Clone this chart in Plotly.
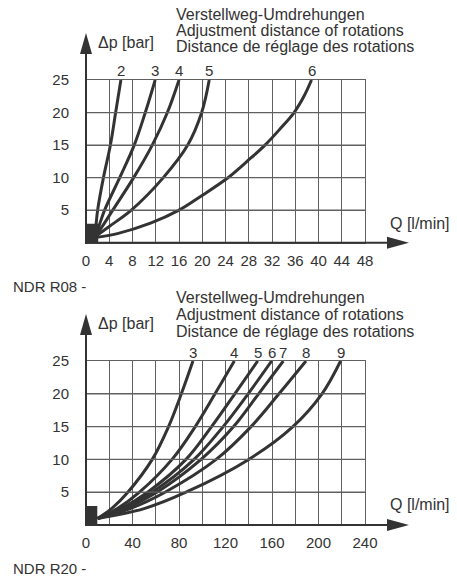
import plotly.graph_objects as go

W, H = 457, 578

# ---------------- data ----------------
# NDR R08 : pressure drop [bar] vs flow [l/min] for each number of rotations
r08_dp = [0.9, 2.5, 5, 10, 15, 20, 25]
r08_q2 = [1.5, 1.7, 2.0, 3.0, 4.2, 5.1, 6.0]
r08_q3 = [1.5, 2.2, 3.2, 5.8, 8.3, 10.2, 11.9]
r08_q4 = [1.5, 2.8, 4.6, 8.2, 11.4, 14.0, 16.0]
r08_q5 = [1.5, 4.0, 7.8, 13.3, 17.5, 19.9, 21.2]
r08_dp6 = [0.8, 1.4, 3.0, 5.0, 7.1, 9.9, 12.5, 15.0, 17.5, 20.0, 22.5, 25.0]
r08_q6 = [1.5, 5.4, 11.1, 16.0, 19.7, 24.3, 27.7, 30.8, 33.4, 35.8, 37.5, 38.8]
r08_labels = ["2", "3", "4", "5", "6"]
r08_xticks = [0, 4, 8, 12, 16, 20, 24, 28, 32, 36, 40, 44, 48]

# NDR R20
r20_dp = [1.0, 2.5, 5, 10, 15, 20, 25]
r20_q3 = [10, 22, 36, 57, 71, 82, 92]
r20_q4 = [10, 27, 46, 74, 94, 111, 127.6]
r20_q5 = [10, 30, 53, 86, 108, 128, 147.7]
r20_q6 = [10, 32, 57, 93, 118, 139.5, 159.7]
r20_q7 = [10, 34, 61, 99, 127, 148.5, 169.7]
r20_q8 = [10, 38, 68, 112, 142, 166, 189.2]
r20_q9 = [10, 50, 86, 140, 178, 203, 219]
r20_labels = ["3", "4", "5", "6", "7", "8", "9"]
r20_xticks = [0, 40, 80, 120, 160, 200, 240]

y_ticks = [5, 10, 15, 20, 25]

# ---------------- styling ----------------
FONT = "Liberation Sans, Arial, Helvetica, sans-serif"
INK = "#333333"
GRID = "#606060"


def px(x):
    return x / W


def py(y):
    return 1 - y / H


X0, X1 = 86, 365            # plot box left/right in pixels
TOP_Y0, TOP_Y1 = 242.7, 80  # bottom/top of upper plot box
BOT_Y0, BOT_Y1 = 525, 361   # bottom/top of lower plot box

fig = go.Figure()

r08_series = [(r08_q2, r08_dp), (r08_q3, r08_dp), (r08_q4, r08_dp), (r08_q5, r08_dp), (r08_q6, r08_dp6)]
r20_series = [(q, r20_dp) for q in [r20_q3, r20_q4, r20_q5, r20_q6, r20_q7, r20_q8, r20_q9]]

curve_line = dict(color=INK, width=3, shape="spline", smoothing=1.0)
for q, dp in r08_series:
    fig.add_trace(go.Scatter(x=q, y=dp, mode="lines", xaxis="x", yaxis="y",
                             line=curve_line, showlegend=False, hoverinfo="skip"))
for q, dp in r20_series:
    fig.add_trace(go.Scatter(x=q, y=dp, mode="lines", xaxis="x2", yaxis="y2",
                             line=curve_line, showlegend=False, hoverinfo="skip"))

annotations = []
for lab, (q, dp) in zip(r08_labels, r08_series):
    annotations.append(dict(x=q[-1], y=dp[-1], xref="x", yref="y", text=lab,
                            showarrow=False, yshift=10, xanchor="center", yanchor="middle",
                            font=dict(size=15, color=INK, family=FONT)))
for lab, (q, dp) in zip(r20_labels, r20_series):
    annotations.append(dict(x=q[-1], y=dp[-1], xref="x2", yref="y2", text=lab,
                            showarrow=False, yshift=9, xanchor="center", yanchor="middle",
                            font=dict(size=15, color=INK, family=FONT)))


def txt(x, y, s, size=16, xanchor="left"):
    annotations.append(dict(x=px(x), y=py(y), xref="paper", yref="paper", text=s,
                            showarrow=False, xanchor=xanchor, yanchor="middle",
                            font=dict(size=size, color=INK, family=FONT)))


for (yy, s) in [(14, "Verstellweg-Umdrehungen"), (30, "Adjustment distance of rotations"),
                (46, "Distance de réglage des rotations")]:
    txt(174, yy, s)
for (yy, s) in [(297, "Verstellweg-Umdrehungen"), (314, "Adjustment distance of rotations"),
                (331, "Distance de réglage des rotations")]:
    txt(174, yy, s)
txt(96, 42, "Δp [bar]")
txt(96, 323, "Δp [bar]")
txt(388, 224, "Q [l/min]")
txt(388, 504, "Q [l/min]")
txt(11, 286, "NDR R08 -", size=15)
txt(11, 568, "NDR R20 -", size=15)

shapes = []

# horizontal grid lines at the y tick values
for v in y_ticks[:-1]:
    shapes.append(dict(type="line", xref="x", yref="y", x0=r08_xticks[0], x1=r08_xticks[-1],
                       y0=v, y1=v, line=dict(color=GRID, width=1.2), layer="above"))
    shapes.append(dict(type="line", xref="x2", yref="y2", x0=r20_xticks[0], x1=r20_xticks[-1],
                       y0=v, y1=v, line=dict(color=GRID, width=1.2), layer="above"))


def axis_arrows(y0px, ytip):
    shapes.append(dict(type="line", xref="paper", yref="paper",
                       x0=px(X0 - 1), x1=px(390), y0=py(y0px), y1=py(y0px),
                       line=dict(color=INK, width=2)))
    shapes.append(dict(type="path", xref="paper", yref="paper",
                       path=f"M {px(387)} {py(y0px-6)} L {px(409)} {py(y0px)} L {px(387)} {py(y0px+6)} Z",
                       fillcolor=INK, line=dict(width=0)))
    shapes.append(dict(type="line", xref="paper", yref="paper",
                       x0=px(X0), x1=px(X0), y0=py(y0px + 1), y1=py(ytip + 18),
                       line=dict(color=INK, width=2)))
    shapes.append(dict(type="path", xref="paper", yref="paper",
                       path=f"M {px(X0-6)} {py(ytip+21)} L {px(X0)} {py(ytip)} L {px(X0+6)} {py(ytip+21)} Z",
                       fillcolor=INK, line=dict(width=0)))


axis_arrows(TOP_Y0, 33)
axis_arrows(BOT_Y0, 314)

# black squares at the origin
shapes.append(dict(type="rect", xref="x", yref="y", x0=-0.15, x1=2.1, y0=0, y1=2.9,
                   fillcolor=INK, line=dict(width=0)))
shapes.append(dict(type="rect", xref="x2", yref="y2", x0=-0.7, x1=9.7, y0=0, y1=2.9,
                   fillcolor=INK, line=dict(width=0)))

tickfont = dict(size=15, color=INK, family=FONT)
common_x = dict(showgrid=True, gridcolor=GRID, gridwidth=1, zeroline=False,
                showline=True, mirror=True, linecolor=GRID, linewidth=1,
                ticks="", ticklabelstandoff=4, tickfont=tickfont, fixedrange=True, automargin=False)
common_y = dict(showgrid=True, gridcolor=GRID, gridwidth=1, zeroline=False,
                showline=True, mirror=True, linecolor=GRID, linewidth=1,
                ticks="", ticklabelstandoff=13, tickfont=tickfont,
                tickmode="array", tickvals=y_ticks, ticktext=[str(v) for v in y_ticks],
                range=[0, 25], fixedrange=True, automargin=False)

fig.update_layout(
    template="none", autosize=False,
    width=W, height=H, margin=dict(l=0, r=0, t=0, b=0, pad=0),
    paper_bgcolor="white", plot_bgcolor="white",
    xaxis=dict(common_x, domain=[px(X0), px(X1)], range=[0, 48], anchor="y",
               tickmode="array", tickvals=r08_xticks, ticktext=[str(v) for v in r08_xticks]),
    yaxis=dict(common_y, domain=[py(TOP_Y0), py(TOP_Y1)], anchor="x"),
    xaxis2=dict(common_x, domain=[px(X0), px(X1)], range=[0, 240], anchor="y2",
                tickmode="array", tickvals=r20_xticks, ticktext=[str(v) for v in r20_xticks],
                minor=dict(dtick=20, tick0=0, showgrid=True, gridcolor=GRID, gridwidth=1, ticks="")),
    yaxis2=dict(common_y, domain=[py(BOT_Y0), py(BOT_Y1)], anchor="x2"),
    annotations=annotations, shapes=shapes,
    showlegend=False,
)

post = ("document.documentElement.style.overflow='hidden';"
        "document.body.style.margin='0';document.body.style.padding='0';"
        "var d=document.getElementById('{plot_id}');"
        "d.style.position='absolute';d.style.left='0px';d.style.top='0px';")

fig.write_html("out.html", post_script=post, config={"displayModeBar": False})
